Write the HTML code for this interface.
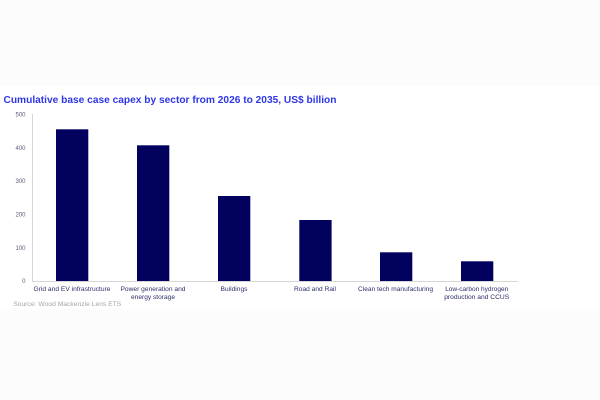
<!DOCTYPE html>
<html>
<head>
<meta charset="utf-8">
<style>
  html, body { margin: 0; padding: 0; width: 600px; height: 400px; overflow: hidden; background: #fcfcfc; }
  svg { display: block; }
  text { font-family: "Liberation Sans", Arial, sans-serif; }
</style>
</head>
<body>
<svg width="600" height="400" viewBox="0 0 600 400" xmlns="http://www.w3.org/2000/svg">
  <rect x="0" y="0" width="600" height="400" fill="#fcfcfc"/>
  <rect x="0" y="86" width="600" height="223" fill="#ffffff"/>

  <!-- Title -->
  <text x="3.5" y="103" font-size="10" font-weight="bold" fill="#2f36e6" textLength="333" lengthAdjust="spacingAndGlyphs">Cumulative base case capex by sector from 2026 to 2035, US$ billion</text>

  <!-- Axes -->
  <line x1="32.5" y1="114" x2="32.5" y2="281" stroke="#d6d6d6" stroke-width="1"/>
  <line x1="32" y1="281.5" x2="518" y2="281.5" stroke="#d6d6d6" stroke-width="1"/>

  <!-- Y tick labels -->
  <g font-size="6" fill="#5a5a78" text-anchor="end">
    <text x="25.5" y="116.5">500</text>
    <text x="25.5" y="149.9">400</text>
    <text x="25.5" y="183.2">300</text>
    <text x="25.5" y="216.5">200</text>
    <text x="25.5" y="249.9">100</text>
    <text x="25.5" y="283.2">0</text>
  </g>

  <!-- Bars -->
  <g fill="#02025e">
    <rect x="56" y="129.3" width="32.3" height="151.7"/>
    <rect x="137" y="145.3" width="32.3" height="135.7"/>
    <rect x="218" y="196" width="32.3" height="85"/>
    <rect x="299.3" y="220" width="32.3" height="61"/>
    <rect x="380" y="252.3" width="32.3" height="28.7"/>
    <rect x="461" y="261.3" width="32.3" height="19.7"/>
  </g>

  <!-- Category labels -->
  <g font-size="6.7" fill="#2e2e6a" text-anchor="middle">
    <text x="72" y="291" textLength="77" lengthAdjust="spacingAndGlyphs">Grid and EV infrastructure</text>
    <text x="153" y="291" textLength="65" lengthAdjust="spacingAndGlyphs">Power generation and</text>
    <text x="153" y="299" textLength="44" lengthAdjust="spacingAndGlyphs">energy storage</text>
    <text x="234" y="291" textLength="27" lengthAdjust="spacingAndGlyphs">Buildings</text>
    <text x="315" y="291" textLength="42" lengthAdjust="spacingAndGlyphs">Road and Rail</text>
    <text x="395.5" y="291" textLength="75" lengthAdjust="spacingAndGlyphs">Clean tech manufacturing</text>
    <text x="476.7" y="291" textLength="63" lengthAdjust="spacingAndGlyphs">Low-carbon hydrogen</text>
    <text x="476.7" y="299" textLength="65" lengthAdjust="spacingAndGlyphs">production and CCUS</text>
  </g>

  <!-- Source -->
  <text x="13.3" y="305.8" font-size="6.7" fill="#a6a6a6" textLength="108" lengthAdjust="spacingAndGlyphs">Source: Wood Mackenzie Lens ETS</text>
</svg>
</body>
</html>
